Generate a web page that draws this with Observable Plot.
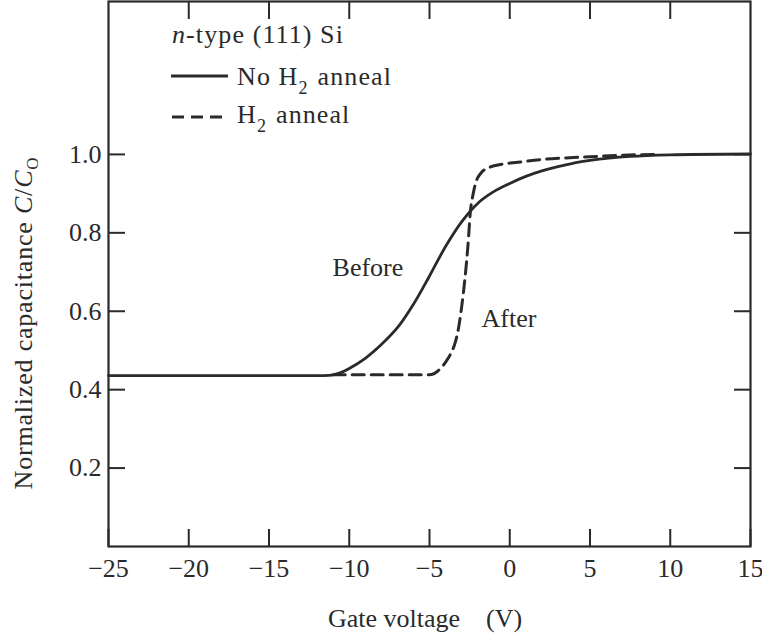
<!DOCTYPE html>
<html>
<head>
<meta charset="utf-8">
<script src="https://cdn.jsdelivr.net/npm/d3@7"></script>
<script src="https://cdn.jsdelivr.net/npm/@observablehq/plot@0.6"></script>
<style>
  html, body { margin: 0; padding: 0; background: #fff; }
  #chart { width: 762px; height: 638px; }
</style>
</head>
<body>
<div id="chart"></div>
<script>
// C–V curves of n-type (111) Si, before and after the H2 anneal
const voltageBefore = [-25, -15, -11, -10.5, -10, -9, -8, -7, -6, -5, -4, -3, -2, -1, 0, 1, 2, 3, 4, 5, 7.5, 10, 15];
const capBefore     = [0.436, 0.436, 0.438, 0.444, 0.454, 0.48, 0.515, 0.558, 0.618, 0.69, 0.765, 0.828, 0.875, 0.905, 0.926, 0.944, 0.958, 0.969, 0.978, 0.985, 0.995, 0.999, 1.001];

const voltageAfter = [-11, -5, -4.5, -4.0, -3.7, -3.4, -3.2, -3.0, -2.8, -2.6, -2.45, -2.3, -2.1, -1.8, -1.2, -0.5, 0.5, 2, 3.5, 5, 7, 9];
const capAfter     = [0.438, 0.438, 0.447, 0.47, 0.49, 0.52, 0.555, 0.61, 0.68, 0.77, 0.855, 0.895, 0.93, 0.952, 0.968, 0.975, 0.98, 0.987, 0.991, 0.994, 0.998, 1.0];

const xTicks = [-25, -20, -15, -10, -5, 0, 5, 10, 15];
const xInnerTicks = [-20, -15, -10, -5, 0, 5, 10];
const yTicks = [0.2, 0.4, 0.6, 0.8, 1.0];
const yTickLabels = ["0.2", "0.4", "0.6", "0.8", "1.0"];

const before = voltageBefore.map((v, i) => ({v, c: capBefore[i]}));
const after = voltageAfter.map((v, i) => ({v, c: capAfter[i]}));

const ink = "#2a2a2a";
const serif = "'Liberation Serif', 'Times New Roman', Times, serif";

const chart = Plot.plot({
  width: 762,
  height: 638,
  marginLeft: 108,
  marginRight: 12,
  marginTop: 1,
  marginBottom: 92,
  x: {domain: [-25, 15]},
  y: {domain: [0, 1.39]},
  style: {fontFamily: serif, fontSize: "26px", color: ink, background: "#fff", overflow: "visible"},
  marks: [
    // inward ticks on all four sides
    Plot.axisX(xTicks, {anchor: "bottom", tickSize: -17, tickPadding: 17 + 12, strokeWidth: 2, label: null}),
    Plot.axisX(xInnerTicks, {anchor: "top", tickSize: -17, strokeWidth: 2, text: null, label: null}),
    Plot.axisY(yTicks, {anchor: "left", tickSize: -17, tickPadding: 17 + 7, strokeWidth: 2, label: null,
      tickFormat: d => yTickLabels[yTicks.indexOf(d)]}),
    Plot.axisY(yTicks, {anchor: "right", tickSize: -17, strokeWidth: 2, text: null, label: null}),
    Plot.frame({stroke: ink, strokeWidth: 2.2}),
    Plot.line(before, {x: "v", y: "c", curve: "catmull-rom", stroke: ink, strokeWidth: 2.8}),
    Plot.line(after, {x: "v", y: "c", curve: "monotone-x", stroke: ink, strokeWidth: 3, strokeDasharray: "12,7"}),
    Plot.text(["Before"], {x: -11.04, y: 0.691, text: d => d, textAnchor: "start", lineAnchor: "bottom", fill: ink, fontSize: 26}),
    Plot.text(["After"], {x: -1.76, y: 0.561, text: d => d, textAnchor: "start", lineAnchor: "bottom", fill: ink, fontSize: 26})
  ]
});

const svg = d3.select(chart);

// y-axis title with italic C/C_O
const yTitle = svg.append("text")
  .attr("transform", "translate(32,323) rotate(-90)")
  .attr("text-anchor", "middle")
  .attr("fill", ink)
  .style("font-family", serif)
  .style("font-size", "26px")
  .style("letter-spacing", "0.8px");
yTitle.append("tspan").text("Normalized capacitance ");
yTitle.append("tspan").attr("font-style", "italic").text("C");
yTitle.append("tspan").text("/");
yTitle.append("tspan").attr("font-style", "italic").text("C");
yTitle.append("tspan").attr("font-size", "17px").attr("dy", 6).text("O");

// x-axis title
const xTitle = svg.append("text")
  .attr("x", 328).attr("y", 627)
  .attr("text-anchor", "start")
  .attr("fill", ink)
  .style("font-family", serif)
  .style("font-size", "26px");
xTitle.append("tspan").text("Gate voltage");
xTitle.append("tspan").attr("dx", 26).text("(V)");

// legend
const legend = svg.append("g")
  .attr("fill", ink)
  .attr("text-anchor", "start")
  .style("font-family", serif)
  .style("font-size", "26px")
  .style("letter-spacing", "1.1px");
const head = legend.append("text").attr("x", 172).attr("y", 43);
head.append("tspan").attr("font-style", "italic").text("n");
head.append("tspan").text("-type (111) Si");

legend.append("line").attr("x1", 171).attr("x2", 228).attr("y1", 76).attr("y2", 76)
  .attr("stroke", ink).attr("stroke-width", 2.8);
const l1 = legend.append("text").attr("x", 237).attr("y", 85);
l1.append("tspan").text("No H");
l1.append("tspan").attr("font-size", "18px").attr("dy", 9).text("2");
l1.append("tspan").attr("dy", -9).attr("dx", 9).text("anneal");

legend.append("line").attr("x1", 172).attr("x2", 227).attr("y1", 117).attr("y2", 117)
  .attr("stroke", ink).attr("stroke-width", 3).attr("stroke-dasharray", "12,7");
const l2 = legend.append("text").attr("x", 237).attr("y", 123);
l2.append("tspan").text("H");
l2.append("tspan").attr("font-size", "18px").attr("dy", 9).text("2");
l2.append("tspan").attr("dy", -9).attr("dx", 9).text("anneal");

document.getElementById("chart").appendChild(chart);
</script>
</body>
</html>
